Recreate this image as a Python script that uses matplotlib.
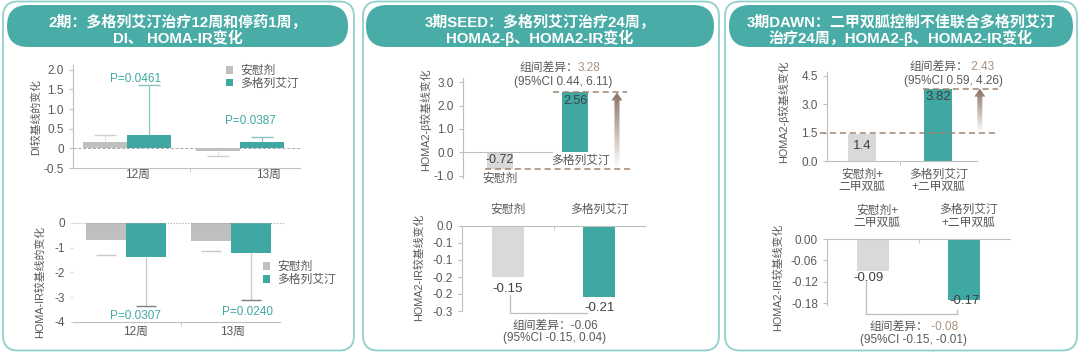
import numpy as np
import matplotlib
matplotlib.use("Agg")
import matplotlib.pyplot as plt
from matplotlib.patches import FancyBboxPatch, Patch, Polygon
from matplotlib.colors import LinearSegmentedColormap

plt.rcParams['font.family'] = ['Liberation Sans', 'Noto Sans CJK SC', 'DejaVu Sans']

# ---- data ----
# panel 1: phase 2, DI / HOMA-IR at week 12 and 13
p1_weeks = ['12周', '13周']
p1_di_placebo = [0.15, -0.07]
p1_di_drug = [0.33, 0.15]
p1_di_placebo_err = [0.35, -0.2]     # end of error bar
p1_di_drug_err = [1.6, 0.3]
p1_di_p = ['P=0.0461', 'P=0.0387']
p1_ir_placebo = [-0.7, -0.75]
p1_ir_drug = [-1.4, -1.2]
p1_ir_placebo_err = [-1.3, -1.15]
p1_ir_drug_err = [-3.35, -3.1]
p1_ir_p = ['P=0.0307', 'P=0.0240']
p1_legend = ['安慰剂', '多格列艾汀']

# panel 2: SEED
p2_groups = ['安慰剂', '多格列艾汀']
p2_beta = [-0.72, 2.56]
p2_ir = [-0.15, -0.21]
p2_beta_diff = ['组间差异：', '3.28', '(95%CI 0.44, 6.11)']
p2_ir_diff = ['组间差异：-0.06', '(95%CI -0.15, 0.04)']

# panel 3: DAWN
p3_groups = ['安慰剂+\n二甲双胍', '多格列艾汀\n+二甲双胍']
p3_beta = [1.4, 3.82]
p3_ir = [-0.09, -0.17]
p3_beta_diff = ['组间差异：', ' 2.43', '(95%CI 0.59, 4.26)']
p3_ir_diff = ['组间差异：', ' -0.08', '(95%CI -0.15, -0.01)']

titles = [
    ['2期：多格列艾汀治疗12周和停药1周，', 'DI、 HOMA-IR变化'],
    ['3期SEED：多格列艾汀治疗24周，', 'HOMA2-β、HOMA2-IR变化'],
    ['3期DAWN：二甲双胍控制不佳联合多格列艾汀', '治疗24周，HOMA2-β、HOMA2-IR变化'],
]

TEAL = '#40a8a2'
HEAD = '#4aaca6'
BORDER = '#8fd0cb'
GRAY1 = '#bfbfbf'
GRAY2 = '#d9d9d9'
TXT = '#595959'
DARK = '#404040'
DASH = '#9e8572'
TAN = '#a8917f'
FS = 8.5

W, H = 1080, 354
fig = plt.figure(figsize=(W / 100, H / 100), dpi=100)
bg = fig.add_axes([0, 0, 1, 1])
bg.set_xlim(0, W)
bg.set_ylim(H, 0)
bg.axis('off')

# panels and header bands
panels = [(3, 354, 7, 348), (363, 719, 366, 714), (725, 1077, 729, 1073)]
for (x0, x1, h0, h1), tl in zip(panels, titles):
    bg.add_patch(FancyBboxPatch((x0, 1.5), x1 - x0, 349, boxstyle='round,pad=0,rounding_size=15',
                                fc='white', ec=BORDER, lw=1.3))
    bg.add_patch(FancyBboxPatch((h0, 5), h1 - h0, 42, boxstyle='round,pad=0,rounding_size=21',
                                fc=HEAD, ec='none'))
    cx = (h0 + h1) / 2
    bg.text(cx, 22, tl[0], color='white', fontsize=10.8, fontweight='bold', ha='center', va='center')
    bg.text(cx, 38, tl[1], color='white', fontsize=10.8, fontweight='bold', ha='center', va='center')


def px_axes(l, t, r, b, xlim, ylim):
    ax = fig.add_axes([l / W, 1 - b / H, (r - l) / W, (b - t) / H])
    ax.patch.set_alpha(0)
    ax.set_xlim(*xlim)
    ax.set_ylim(*ylim)
    for s in ax.spines.values():
        s.set_color(GRAY1)
        s.set_linewidth(0.8)
    ax.spines['top'].set_visible(False)
    ax.spines['right'].set_visible(False)
    ax.tick_params(colors=GRAY1, labelcolor=TXT, labelsize=FS, length=3, width=0.8)
    sx = (r - l) / (xlim[1] - xlim[0])
    sy = (b - t) / (ylim[1] - ylim[0])
    return ax, sx, sy


def ylab(x, y, s):
    bg.text(x, y, s, rotation=90, fontsize=7.8, color=TXT, ha='center', va='center')


def grad_arrow(ax, x, y0, y1, sx, sy):
    shw, hw, hl = 2.5 / sx, 5.5 / sx, 8 / sy
    verts = [(x - shw, y0), (x - shw, y1 - hl), (x - hw, y1 - hl), (x, y1),
             (x + hw, y1 - hl), (x + shw, y1 - hl), (x + shw, y0)]
    poly = Polygon(verts, closed=True, fc='none', ec='none')
    ax.add_patch(poly)
    cmap = LinearSegmentedColormap.from_list('arr', ['#ffffff', '#8b7262'])
    grad = np.linspace(0, 1, 64).reshape(-1, 1)
    im = ax.imshow(grad, cmap=cmap, extent=(x - hw, x + hw, y0, y1), origin='lower',
                   aspect='auto', zorder=3)
    im.set_clip_path(poly)


x = np.arange(2)

# ---- panel 1 top: DI ----
lim = ((-0.478, 1.531), (-0.5, 2.12))
ax, sx, sy = px_axes(73, 65, 300, 168, *lim)
bw = 0.39
ax.bar(x - bw / 2, p1_di_placebo, bw, color=GRAY1, zorder=2)
ax.bar(x + bw / 2, p1_di_drug, bw, color=TEAL, zorder=2)
ax.vlines(x - bw / 2, p1_di_placebo, p1_di_placebo_err, color='#e3e3e3', lw=0.9)
ax.hlines(p1_di_placebo_err, x - bw / 2 - 0.1, x - bw / 2 + 0.1, color='#d0d0d0', lw=1)
ax.vlines(x + bw / 2, p1_di_drug, p1_di_drug_err, color='#86c4c0', lw=0.9)
ax.hlines(p1_di_drug_err, x + bw / 2 - 0.1, x + bw / 2 + 0.1, color='#86c4c0', lw=1)
ax.axhline(0, color='#a6a6a6', lw=0.7, ls=(0, (3, 2)), zorder=1)
ax.text(0.08, 1.62, p1_di_p[0], color=TEAL, fontsize=FS, ha='center', va='bottom')
ax.text(1.09, 0.55, p1_di_p[1], color=TEAL, fontsize=FS, ha='center', va='bottom')
ax.set_yticks([-0.5, 0, 0.5, 1, 1.5, 2])
ax.set_yticklabels(['-0.5', '0', '0.5', '1.0', '1.5', '2.0'])
ax.set_xticks(x + np.array([0.09, 0.25]))
ax.set_xticklabels(p1_weeks)
ax.set_xticks([0.557], minor=True)
ax.tick_params(axis='x', which='major', length=0, pad=1)
ax.tick_params(axis='x', which='minor', length=3, color=GRAY1)
ax.legend([Patch(fc=GRAY1), Patch(fc=TEAL)], p1_legend, loc='upper left',
          bbox_to_anchor=(226 / W, 1 - 65 / H), bbox_transform=fig.transFigure,
          frameon=False, fontsize=FS, labelcolor=TXT, handlelength=0.6, handleheight=0.6,
          handletextpad=0.6, labelspacing=0.05, borderpad=0, borderaxespad=0)
ylab(36, 117, 'DI较基线的变化')

# ---- panel 1 bottom: HOMA-IR ----
lim = ((-0.505, 1.514), (-4, 0.15))
ax, sx, sy = px_axes(73, 219, 285, 322, *lim)
bw = 0.38
ax.bar(x - bw / 2, p1_ir_placebo, bw, color=GRAY1, zorder=2)
ax.bar(x + bw / 2, p1_ir_drug, bw, color=TEAL, zorder=2)
ax.hlines(p1_ir_placebo_err, x - bw / 2 - 0.095, x - bw / 2 + 0.095, color='#c8c8c8', lw=1)
ax.vlines(x + bw / 2, p1_ir_drug, p1_ir_drug_err, color='#c8c8c8', lw=0.9)
ax.hlines(p1_ir_drug_err, x + bw / 2 - 0.095, x + bw / 2 + 0.095, color='#7f7f7f', lw=1)
ax.axhline(0, color='#a6a6a6', lw=0.8, ls=':', zorder=3)
ax.text(0.086, -3.75, p1_ir_p[0], color=TEAL, fontsize=FS, ha='center', va='center')
ax.text(1.16, -3.59, p1_ir_p[1], color=TEAL, fontsize=FS, ha='center', va='center')
ax.spines['left'].set_visible(False)
ax.spines['bottom'].set_bounds(-0.505, 1.467)
ax.set_yticks([0, -1, -2, -3, -4])
ax.set_yticklabels(['0', '-1', '-2', '-3', '-4'])
ax.tick_params(axis='y', length=2, color='#e0e0e0')
ax.set_xticks(x + np.array([0.086, 0.01]))
ax.set_xticklabels(p1_weeks)
ax.set_xticks([0.524], minor=True)
ax.tick_params(axis='x', which='major', length=0, pad=3)
ax.tick_params(axis='x', which='minor', length=3, color=GRAY1)
ax.legend([Patch(fc=GRAY1), Patch(fc=TEAL)], p1_legend, loc='upper left',
          bbox_to_anchor=(263 / W, 1 - 261 / H), bbox_transform=fig.transFigure,
          frameon=False, fontsize=FS, labelcolor=TXT, handlelength=0.6, handleheight=0.6,
          handletextpad=0.6, labelspacing=0.1, borderpad=0, borderaxespad=0)
ylab(40, 282, 'HOMA-IR较基线的变化')

# ---- panel 2 top: HOMA2-beta ----
lim = ((-0.493, 1.867), (-1.1, 3.18))
ax, sx, sy = px_axes(463, 78, 640, 178, *lim)
bw = 0.35
ax.bar(x, p2_beta, bw, color=[GRAY2, TEAL], zorder=2)
ax.hlines(p2_beta[1], 0.71, 1.69, color=DASH, lw=1.1, ls=(0, (4, 2.5)), zorder=4)
ax.hlines(p2_beta[0], -0.2, 1.73, color=DASH, lw=1.1, ls=(0, (4, 2.5)), zorder=4)
grad_arrow(ax, 1.56, p2_beta[0], p2_beta[1], sx, sy)
ax.annotate('%.2f' % p2_beta[0], (0, 0), xytext=(0, -1), textcoords='offset points',
            ha='center', va='top', fontsize=9, color=DARK)
ax.annotate('%.2f' % p2_beta[1], (1, p2_beta[1]), xytext=(0, -1.5), textcoords='offset points',
            ha='center', va='top', fontsize=9, color=DARK)
ax.annotate(p2_groups[0], (0, p2_beta[0]), xytext=(0, -2.5), textcoords='offset points',
            ha='center', va='top', fontsize=FS, color=TXT)
ax.annotate(p2_groups[1], (1.07, 0), xytext=(0, -2), textcoords='offset points',
            ha='center', va='top', fontsize=FS, color=TXT)
ax.spines['bottom'].set_position(('data', 0))
ax.spines['bottom'].set_bounds(-0.493, 0.69)
ax.set_xticks([])
ax.set_yticks([-1, 0, 1, 2, 3])
ax.set_yticklabels(['%.1f' % v for v in [-1, 0, 1, 2, 3]])
ax.set_xlim(*lim[0])
ax.set_ylim(*lim[1])
bg.text(578, 68, p2_beta_diff[0], fontsize=FS, color=TXT, ha='right', va='center')
bg.text(578, 68, p2_beta_diff[1], fontsize=FS, color=TAN, ha='left', va='center')
bg.text(563, 82, p2_beta_diff[2], fontsize=FS, color=TXT, ha='center', va='center')
ylab(425, 120, 'HOMA2-β较基线变化')

# ---- panel 2 bottom: HOMA2-IR ----
lim = ((-0.5, 1.5), (-0.25, 0))
ax, sx, sy = px_axes(462, 226, 645, 311, *lim)
ax.bar(x, p2_ir, bw, color=[GRAY2, TEAL], zorder=2)
ax.annotate('%.2f' % p2_ir[0], (0, p2_ir[0]), xytext=(0, -4), textcoords='offset points',
            ha='center', va='top', fontsize=9.5, color=DARK)
ax.annotate('%.2f' % p2_ir[1], (1, p2_ir[1]), xytext=(0, -3), textcoords='offset points',
            ha='center', va='top', fontsize=9.5, color=DARK)
ax.plot([0.02, 0.02, 0.87], [-0.204, -0.256, -0.256], color=GRAY1, lw=0.9, clip_on=False)
ax.spines['top'].set_visible(True)
ax.spines['bottom'].set_visible(False)
ax.xaxis.tick_top()
ax.set_xticks(x)
ax.set_xticklabels(p2_groups)
ax.set_xticks([0.5], minor=True)
ax.tick_params(axis='x', which='major', length=0, pad=7)
ax.tick_params(axis='x', which='minor', length=3, direction='in', color=GRAY1)
ax.set_yticks([0, -0.05, -0.1, -0.15, -0.2, -0.25])
ax.set_yticklabels(['0.0', '-0.1', '-0.1', '-0.2', '-0.2', '-0.3'])
bg.text(555, 326, p2_ir_diff[0], fontsize=FS, color=TXT, ha='center', va='center')
bg.text(555, 338, p2_ir_diff[1], fontsize=FS, color=TXT, ha='center', va='center')
ylab(419, 267, 'HOMA2-IR较基线变化')

# ---- panel 3 top: HOMA2-beta ----
lim = ((-0.46, 1.947), (0, 4.7))
ax, sx, sy = px_axes(827, 72, 1010, 161, *lim)
bw = 0.36
ax.bar(x, p3_beta, bw, color=[GRAY2, TEAL], zorder=2)
ax.hlines(p3_beta[1], 0.8, 1.79, color=DASH, lw=1.1, ls=(0, (4, 2.5)), zorder=4)
ax.hlines(p3_beta[0] + 0.1, -0.55, 1.79, color=DASH, lw=1.1, ls=(0, (4, 2.5)), zorder=4, clip_on=False)
grad_arrow(ax, 1.55, p3_beta[0] + 0.1, p3_beta[1], sx, sy)
ax.annotate('%.1f' % p3_beta[0], (0, p3_beta[0]), xytext=(0, -4), textcoords='offset points',
            ha='center', va='top', fontsize=9.5, color=DARK)
ax.annotate('%.2f' % p3_beta[1], (1, p3_beta[1]), xytext=(0, -1.5), textcoords='offset points',
            ha='center', va='top', fontsize=9.5, color=DARK)
ax.spines['bottom'].set_bounds(-0.46, 1.51)
ax.set_xticks(x)
ax.set_xticklabels(p3_groups, linespacing=1.05)
ax.set_xticks([0.5], minor=True)
ax.tick_params(axis='x', which='major', length=0, pad=5.5)
ax.tick_params(axis='x', which='minor', length=3, color=GRAY1)
ax.set_yticks([0, 1.5, 3, 4.5])
ax.set_yticklabels(['%.1f' % v for v in [0, 1.5, 3, 4.5]])
ax.set_xlim(*lim[0])
ax.set_ylim(*lim[1])
bg.text(968, 67, p3_beta_diff[0], fontsize=FS, color=TXT, ha='right', va='center')
bg.text(968, 67, p3_beta_diff[1], fontsize=FS, color=TAN, ha='left', va='center')
bg.text(953, 81, p3_beta_diff[2], fontsize=FS, color=TXT, ha='center', va='center')
ylab(783, 112, 'HOMA2-β较基线变化')

# ---- panel 3 bottom: HOMA2-IR ----
lim = ((-0.5, 1.5), (-0.185, 0))
ax, sx, sy = px_axes(827, 239, 1010, 305, *lim)
bw = 0.35
ax.bar(x, p3_ir, bw, color=[GRAY2, TEAL], zorder=2)
ax.annotate('%.2f' % p3_ir[0], (-0.05, p3_ir[0]), xytext=(0, -1), textcoords='offset points',
            ha='center', va='top', fontsize=9.5, color=DARK)
ax.annotate('%.2f' % p3_ir[1], (1, p3_ir[1]), xytext=(0, -1), textcoords='offset points',
            ha='center', va='center', fontsize=9.5, color=DARK)
ax.plot([-0.077, -0.077, 0.92, 0.92], [-0.115, -0.21, -0.21, -0.199], color=GRAY1, lw=0.9,
        clip_on=False)
ax.spines['top'].set_visible(True)
ax.spines['bottom'].set_visible(False)
ax.xaxis.tick_top()
ax.set_xticks(x + 0.05)
ax.set_xticklabels(p3_groups, linespacing=1.1)
ax.set_xticks([0.5], minor=True)
ax.tick_params(axis='x', which='major', length=0, pad=7)
ax.tick_params(axis='x', which='minor', length=3, direction='in', color=GRAY1)
ax.set_yticks([0, -0.06, -0.12, -0.18])
ax.set_yticklabels(['%.2f' % v for v in [0, -0.06, -0.12, -0.18]])
bg.text(928, 327, p3_ir_diff[0], fontsize=FS, color=TXT, ha='right', va='center')
bg.text(928, 327, p3_ir_diff[1], fontsize=FS, color=TAN, ha='left', va='center')
bg.text(913, 340, p3_ir_diff[2], fontsize=FS, color=TXT, ha='center', va='center')
ylab(778, 277, 'HOMA2-IR较基线变化')

fig.savefig('out.png', dpi=100)
